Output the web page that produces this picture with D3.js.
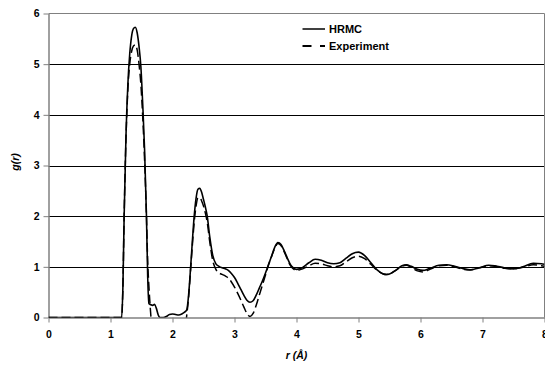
<!DOCTYPE html>
<html>
<head>
<meta charset="UTF-8">
<title>g(r) HRMC vs Experiment</title>
<script src="https://cdn.jsdelivr.net/npm/d3@7"></script>
<style>
  body { margin: 0; background: #fff; }
  text { font-family: "Liberation Sans", Arial, sans-serif; font-weight: bold; fill: #000; }
</style>
</head>
<body>
<script>
var w = 545, h = 366;

// r in Angstrom
var rVals = [0, 1.18, 1.20, 1.22, 1.25, 1.28, 1.31, 1.34, 1.37, 1.40, 1.43, 1.46, 1.49, 1.52, 1.55, 1.58, 1.60, 1.62,
  1.65, 1.68, 1.71, 1.74, 1.77, 1.80, 1.85, 1.90, 1.95, 2.00, 2.05, 2.10, 2.15, 2.20, 2.23, 2.26, 2.29, 2.32, 2.35,
  2.38, 2.41, 2.44, 2.47, 2.50, 2.53, 2.56, 2.60, 2.65, 2.70, 2.75, 2.80, 2.85, 2.90, 2.95, 3.00, 3.05, 3.10, 3.15,
  3.20, 3.25, 3.30, 3.35, 3.40, 3.45, 3.50, 3.55, 3.60, 3.65, 3.70, 3.75, 3.80, 3.85, 3.90, 3.95, 4.00, 4.05, 4.10,
  4.20, 4.30, 4.40, 4.50, 4.60, 4.70, 4.80, 4.90, 5.00, 5.10, 5.20, 5.30, 5.40, 5.45, 5.50, 5.60, 5.70, 5.77, 5.85,
  5.95, 6.04, 6.15, 6.30, 6.42, 6.55, 6.70, 6.80, 6.95, 7.10, 7.20, 7.35, 7.50, 7.65, 7.82, 7.95, 8.00];

var hrmc = [0, 0, 0.6, 2.0, 3.6, 4.6, 5.2, 5.55, 5.70, 5.73, 5.62, 5.35, 4.95, 4.2, 3.3, 2.0, 0.8, 0.27,
  0.25, 0.24, 0.26, 0.18, 0.05, 0, 0, 0.02, 0.06, 0.07, 0.06, 0.05, 0.07, 0.11, 0.15, 0.45, 0.95, 1.5, 2.0,
  2.35, 2.53, 2.55, 2.47, 2.33, 2.18, 2.0, 1.6, 1.22, 1.06, 1.01, 0.98, 0.96, 0.93, 0.87, 0.79, 0.68, 0.56, 0.44,
  0.34, 0.30, 0.33, 0.44, 0.58, 0.72, 0.88, 1.05, 1.22, 1.39, 1.48, 1.44, 1.32, 1.18, 1.05, 0.98, 0.95, 0.96, 0.99,
  1.08, 1.15, 1.13, 1.08, 1.06, 1.08, 1.17, 1.26, 1.29, 1.22, 1.08, 0.94, 0.86, 0.85, 0.86, 0.93, 1.02, 1.04, 1.01,
  0.95, 0.93, 0.97, 1.03, 1.04, 1.01, 0.96, 0.94, 0.98, 1.03, 1.02, 0.98, 0.96, 1.00, 1.07, 1.06, 1.05];

var expt = [0, 0, 0.6, 2.0, 3.55, 4.5, 5.0, 5.25, 5.36, 5.38, 5.28, 5.0, 4.6, 3.95, 3.1, 2.0, 1.1, 0.6,
  0.05, -0.4, -0.6, -0.6, -0.6, -0.6, -0.6, -0.6, -0.6, -0.6, -0.6, -0.6, -0.5, -0.3, 0.05, 0.4, 0.9, 1.42, 1.88,
  2.2, 2.36, 2.37, 2.3, 2.2, 2.06, 1.88, 1.5, 1.12, 0.95, 0.88, 0.85, 0.82, 0.78, 0.70, 0.60, 0.48, 0.35, 0.21,
  0.08, 0.02, 0.08, 0.24, 0.44, 0.64, 0.84, 1.04, 1.21, 1.37, 1.46, 1.42, 1.30, 1.16, 1.03, 0.96, 0.93, 0.94, 0.96,
  1.02, 1.07, 1.06, 1.02, 1.00, 1.02, 1.10, 1.18, 1.21, 1.16, 1.05, 0.93, 0.86, 0.85, 0.86, 0.93, 1.01, 1.03, 0.99,
  0.92, 0.90, 0.95, 1.02, 1.03, 1.00, 0.95, 0.94, 0.98, 1.02, 1.01, 0.97, 0.96, 0.99, 1.04, 1.02, 1.01];

var xTicks = [0, 1, 2, 3, 4, 5, 6, 7, 8];
var yTicks = [0, 1, 2, 3, 4, 5, 6];
var seriesNames = ["HRMC", "Experiment"];

var x = d3.scaleLinear().domain([0, 8]).range([48.5, 544.5]);
var y = d3.scaleLinear().domain([0, 6]).range([317.5, 13.5]);

var svg = d3.select("body").append("svg")
  .attr("width", w)
  .attr("height", h);

svg.append("defs").append("clipPath").attr("id", "plotclip")
  .append("rect")
  .attr("x", x(0)).attr("y", y(6))
  .attr("width", x(8) - x(0)).attr("height", y(0) - y(6));

// gridlines, snapped to half pixels so they stay crisp
svg.append("g").selectAll("line")
  .data(yTicks.filter(function(d){ return d > 0 && d < 6; }))
  .enter().append("line")
  .attr("x1", x(0)).attr("x2", x(8))
  .attr("y1", function(d){ return Math.round(y(d)) + 0.5; })
  .attr("y2", function(d){ return Math.round(y(d)) + 0.5; })
  .attr("stroke", "#000")
  .attr("stroke-width", 1);

// plot frame (top and right)
svg.append("path")
  .attr("d", "M" + x(0) + "," + y(6) + "H" + x(8) + "V" + y(0))
  .attr("fill", "none")
  .attr("stroke", "#808080")
  .attr("stroke-width", 1);

var yAxis = svg.append("g")
  .attr("transform", "translate(" + x(0) + ",0)")
  .call(d3.axisLeft(y).tickValues(yTicks).tickFormat(d3.format("d"))
    .tickSize(5).tickSizeOuter(0).tickPadding(4));
yAxis.select(".domain").attr("stroke", "#808080").attr("stroke-width", 1.5);
yAxis.selectAll(".tick line").attr("stroke", "#808080");
yAxis.selectAll("text").style("font-size", "10.5px").style("font-family", "Liberation Sans, Arial, sans-serif");

var xAxis = svg.append("g")
  .attr("transform", "translate(0," + y(0) + ")")
  .call(d3.axisBottom(x).tickValues(xTicks).tickFormat(d3.format("d"))
    .tickSize(5).tickSizeOuter(0).tickPadding(8));
xAxis.select(".domain").attr("stroke", "#808080").attr("stroke-width", 1.5);
xAxis.selectAll(".tick line").attr("stroke", "#808080");
xAxis.selectAll("text").style("font-size", "10.5px").style("font-family", "Liberation Sans, Arial, sans-serif");

var pts = function(vals){
  return rVals.map(function(r, i){ return [r, vals[i]]; });
};

var line = d3.line()
  .x(function(d){ return x(d[0]); })
  .y(function(d){ return y(d[1]); })
  .curve(d3.curveMonotoneX);

var plot = svg.append("g").attr("clip-path", "url(#plotclip)");

plot.append("path")
  .datum(pts(expt))
  .attr("d", line)
  .attr("fill", "none")
  .attr("stroke", "#000")
  .attr("stroke-width", 1.5)
  .attr("stroke-dasharray", "9,4");

plot.append("path")
  .datum(pts(hrmc))
  .attr("d", line)
  .attr("fill", "none")
  .attr("stroke", "#000")
  .attr("stroke-width", 1.6);

// legend
var legend = svg.append("g");
legend.selectAll("line")
  .data(seriesNames)
  .enter().append("line")
  .attr("x1", 302.5).attr("x2", 325)
  .attr("y1", function(d, i){ return 29 + i * 17; })
  .attr("y2", function(d, i){ return 29 + i * 17; })
  .attr("stroke", "#000")
  .attr("stroke-width", function(d, i){ return i ? 2 : 1.5; })
  .attr("stroke-dasharray", function(d, i){ return i ? "9,8.5" : null; });
legend.selectAll("text")
  .data(seriesNames)
  .enter().append("text")
  .attr("x", 329)
  .attr("y", function(d, i){ return 29 + i * 17; })
  .attr("dy", "0.35em")
  .style("font-size", "11px")
  .text(function(d){ return d; });

// axis titles
svg.append("text")
  .attr("x", (x(0) + x(8)) / 2)
  .attr("y", 359)
  .attr("text-anchor", "middle")
  .style("font-size", "10.5px")
  .style("font-style", "italic")
  .text("r (Å)");

svg.append("text")
  .attr("transform", "translate(19,162) rotate(-90)")
  .attr("text-anchor", "middle")
  .style("font-size", "10.5px")
  .style("font-style", "italic")
  .text("g(r)");
</script>
</body>
</html>
